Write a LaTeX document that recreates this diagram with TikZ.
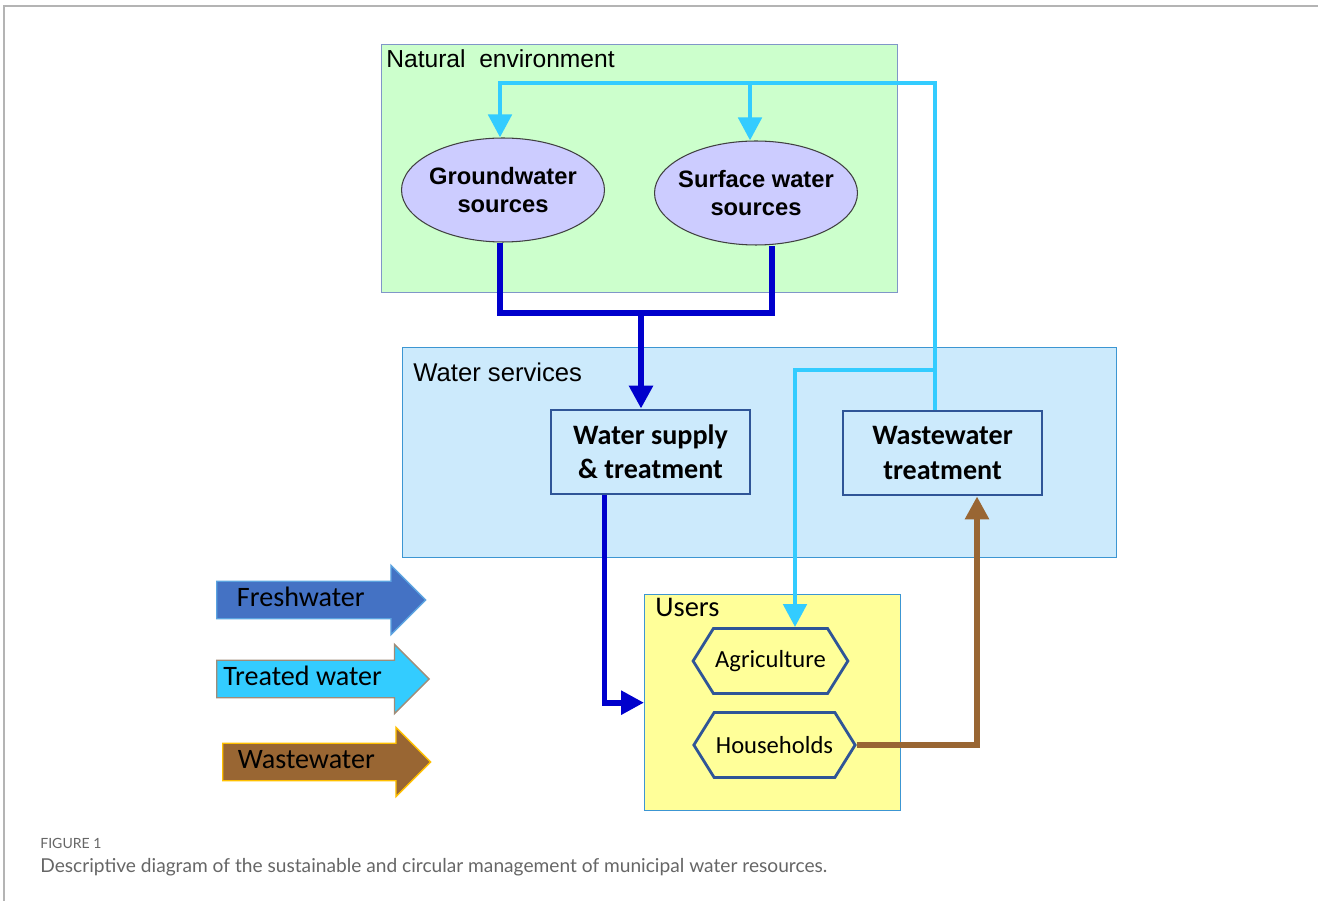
\documentclass[tikz,border=0pt]{standalone}
\usepackage{fontspec}
\setmainfont{Liberation Sans}
\newfontfamily\calibri{Carlito}
\newfontfamily\capfont{Lato}
\usetikzlibrary{calc,arrows.meta,shapes.geometric,shapes.arrows,shapes.symbols}

\definecolor{envgreen}{HTML}{CCFFCC}
\definecolor{envedge}{HTML}{8096C8}
\definecolor{svcblue}{HTML}{CCEAFC}
\definecolor{svcedge}{HTML}{3C96D2}
\definecolor{usryellow}{HTML}{FFFF99}
\definecolor{srcviolet}{HTML}{CCCCFF}
\definecolor{boxnavy}{HTML}{2F5597}
\definecolor{freshblue}{HTML}{0000CC}
\definecolor{treatcyan}{HTML}{33CCFF}
\definecolor{wastebrown}{HTML}{996633}
\definecolor{legfresh}{HTML}{4472C4}
\definecolor{legfreshedge}{HTML}{5BA3E0}
\definecolor{legtreatedge}{HTML}{A08C78}
\definecolor{legwasteedge}{HTML}{FFC000}
\definecolor{capgray}{HTML}{666666}
\definecolor{framegray}{HTML}{B4B4B4}

\begin{document}
\begin{tikzpicture}[x=0.02cm,y=-0.02cm,
    zone/.style={draw=#1, line width=0.8pt, anchor=north west, inner sep=0pt},
    zonelabel/.style={anchor=base west, inner sep=0pt},
    source/.style={ellipse, draw=black!75, fill=srcviolet, line width=0.6pt,
      inner xsep=-4pt, inner ysep=0pt,
      minimum width=4.06cm, minimum height=2.08cm, align=center,
      font=\fontsize{13.5}{16}\selectfont\bfseries},
    unit/.style={draw=boxnavy, fill=svcblue, line width=1.6pt,
      minimum width=3.98cm, minimum height=1.68cm, align=center,
      font=\calibri\fontsize{16}{19.5}\selectfont\bfseries},
    user/.style={signal, signal to=east and west, signal pointer angle=116,
      draw=boxnavy, fill=usryellow, line width=1.6pt, inner xsep=1pt,
      minimum width=2.98cm, minimum height=1.3cm,
      font=\calibri\fontsize{14}{17}\selectfont},
    legend/.style={single arrow, single arrow head extend=0.32cm, anchor=tail,
      minimum height=4.18cm, line width=0.8pt, text height=11pt, text depth=3.5pt,
      inner ysep=3pt, font=\calibri\fontsize{16}{19}\selectfont,
      execute at end node=\hspace*{0.44cm}},
    tip/.style={-{Triangle[length=0.46cm,width=0.46cm]}},
    freshline/.style={draw=freshblue, line width=3.4pt},
    treatline/.style={draw=treatcyan, line width=2.8pt},
    wasteline/.style={draw=wastebrown, line width=3.4pt}]

    \useasboundingbox (0,0) rectangle (1318,901);
    \draw[framegray, line width=0.6pt] (4,901) -- (4,6) -- (1318,6);

    % zones
    \node[zone=envedge, fill=envgreen, minimum width=10.32cm, minimum height=4.96cm] (env) at (381,44) {};
    \node[zone=svcedge, fill=svcblue, minimum width=14.28cm, minimum height=4.2cm] (svc) at (402,347) {};
    \node[zone=svcedge, fill=usryellow, minimum width=5.12cm, minimum height=4.32cm] (usr) at (644,594) {};
    \node[zonelabel, font=\fontsize{14}{17}\selectfont] (envlbl) at (386,68) {Natural\ \ environment};
    \node[zonelabel, font=\fontsize{14.6}{17}\selectfont] (svclbl) at (413,382) {Water services};
    \node[zonelabel, font=\calibri\fontsize{16.2}{19}\selectfont] (usrlbl) at (655,617) {Users};

    % sources, services, users
    \node[source] (gw) at (503,190) {Groundwater\\sources};
    \node[source] (sw) at (756,193) {Surface water\\sources};
    \node[unit] (wst) at (650.5,452) {Water supply\\\& treatment};
    \node[unit] (wwt) at (942.5,453) {Wastewater\\treatment};
    \node[user] (agri) at (770.5,661) {Agriculture};
    \node[user] (hh) at (774.5,745) {Households};

    % freshwater
    \coordinate (gwbot) at ($(gw.south)+(-3,0)$);
    \coordinate (swbot) at ($(sw.south)+(16,0)$);
    \coordinate (merge) at (641,313);
    \draw[freshline] (gwbot) -- (gwbot |- merge) -- (swbot |- merge) -- (swbot);
    \draw[freshline, tip] (merge) -- (merge |- wst.north);
    \draw[freshline, tip] ($(wst.south)+(-46,0)$) |- (usr.west);

    % treated water
    \coordinate (turn) at (935,83);
    \coordinate (swtop) at ($(sw.north)+(-6,0)$);
    \coordinate (split) at (935,370);
    \draw[treatline, tip] (turn |- wwt.north) -- (turn) -| ($(gw.north)+(-3,0)$);
    \draw[treatline, tip] (swtop |- turn) -- (swtop);
    \draw[treatline, tip] (split) -| ($(agri.north)+(24.5,0)$);

    % wastewater
    \draw[wasteline, tip] (hh.east) -| ($(wwt.south)+(34.5,0)$);

    % legend
    \node[legend, fill=legfresh, draw=legfreshedge] (lfresh) at (216,600) {Freshwater};
    \node[legend, fill=treatcyan, draw=legtreatedge] (ltreat) at (216,679) {Treated water};
    \node[legend, fill=wastebrown, draw=legwasteedge, minimum height=4.16cm] (lwaste) at (222,762) {Wastewater};

    % caption
    \node[zonelabel, font=\capfont\fontsize{8}{10}\selectfont, text=capgray] (fig) at (40,848) {FIGURE 1};
    \node[zonelabel, font=\capfont\fontsize{10.9}{13}\selectfont, text=capgray] (cap) at (40,872)
      {Descriptive diagram of the sustainable and circular management of municipal water resources.};
\end{tikzpicture}
\end{document}
